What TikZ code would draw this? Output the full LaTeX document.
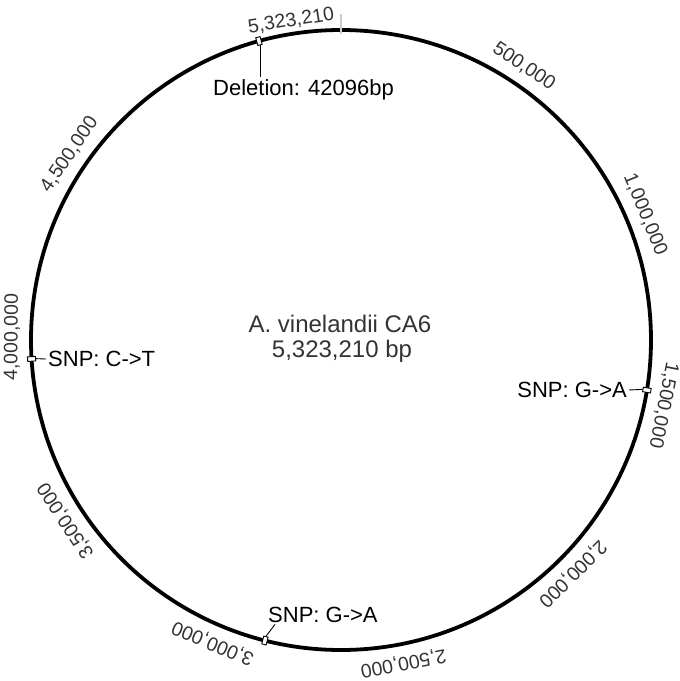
\documentclass[tikz,border=0pt]{standalone}
\usepackage{fontspec}
\setmainfont{Liberation Sans}
\usepackage{tikz}

\begin{document}
\begin{tikzpicture}[x=1pt, y=1pt,
    ticklbl/.style={text=black!80, font=\fontsize{19.5}{22}\selectfont, inner sep=0pt},
    featlbl/.style={font=\fontsize{22}{26}\selectfont, inner sep=2pt},
    title/.style={text=black!80, font=\fontsize{24}{25}\selectfont, inner sep=0pt},
    marker/.style={draw, fill=white, line width=0.9pt, minimum width=4.5pt, minimum height=8pt, inner sep=0pt},
    leader/.style={line width=0.9pt}]
    \path[use as bounding box] (-341,340) rectangle (339,-341);

    \draw[line width=3.8pt] (0,0) circle (310);
    \draw[black!20, line width=1.5pt] (90:306) -- (90:326);

    % position labels
    \node[ticklbl, rotate=8.9] (t0) at (98.9:323) {5,323,210};
    \node[ticklbl, rotate=-33.81] (t1) at (56.19:329) {500,000};
    \node[ticklbl, rotate=-67.63] (t2) at (22.37:329) {1,000,000};
    \node[ticklbl, rotate=-101.44] (t3) at (-11.44:329) {1,500,000};
    \node[ticklbl, rotate=-135.26] (t4) at (-45.26:329) {2,000,000};
    \node[ticklbl, rotate=-169.07] (t5) at (-79.07:329) {2,500,000};
    \node[ticklbl, rotate=-202.89] (t6) at (-112.89:329) {3,000,000};
    \node[ticklbl, rotate=-236.70] (t7) at (-146.70:329) {3,500,000};
    \node[ticklbl, rotate=-270.51] (t8) at (-180.51:329) {4,000,000};
    \node[ticklbl, rotate=-304.33] (t9) at (-214.33:329) {4,500,000};

    % genome
    \node[title, anchor=base] (name) at (-1,8) {A. vinelandii CA6};
    \node[title, anchor=base] (size) at (1,-17) {5,323,210 bp};

    % features
    \node[marker, rotate=15.35] (m1) at (105.35:310) {};
    \node[marker, rotate=-99.3] (m2) at (-9.3:310) {};
    \node[marker, rotate=-266.5] (m3) at (-176.5:310) {};
    \node[marker, rotate=-194.2] (m4) at (-104.2:310) {};

    \node[featlbl, anchor=base west] (dlbl) at (-130,245) {Deletion: 42096bp};
    \node[featlbl, anchor=east] (s1lbl) at (288,-50) {SNP: G->A};
    \node[featlbl, anchor=west] (s2lbl) at (-295,-19) {SNP: C->T};
    \node[featlbl, anchor=base west] (s3lbl) at (-75,-282) {SNP: G->A};

    \draw[leader] (m1.south) -- (m1.south |- dlbl.north);
    \draw[leader] (m2.south) -- (s1lbl.east);
    \draw[leader] (m3.south) -- (s2lbl.west);
    \draw[leader] (m4.south) -- ([xshift=9pt]s3lbl.south west);
\end{tikzpicture}
\end{document}
